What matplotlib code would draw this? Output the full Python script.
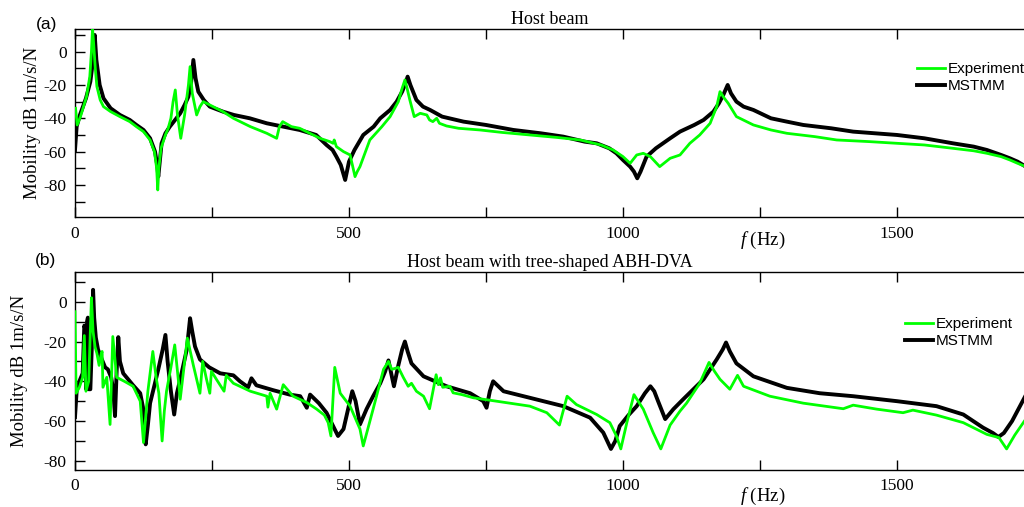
import matplotlib
matplotlib.use("Agg")
import matplotlib.pyplot as plt
import numpy as np
from matplotlib.ticker import MultipleLocator, FuncFormatter

# (frequency Hz, mobility dB)
mstmm_a = np.array([
    (0, -59), (3, -45), (9, -38), (20, -28), (28, -18), (33, -5), (36, 10), (39, -5), (45, -20),
    (52, -28), (65, -34), (82, -38), (100, -41), (112, -44), (125, -47), (137, -52), (146, -60),
    (150, -68), (152, -75), (155, -65), (158, -55), (165, -49), (173, -45), (185, -40), (192, -37),
    (200, -32), (207, -27), (212, -18), (216, -5), (220, -16), (225, -24), (235, -29), (246, -33),
    (270, -36), (290, -38), (319, -40), (350, -43), (380, -45), (410, -47), (440, -50), (459, -56),
    (470, -59), (477, -63), (485, -68), (493, -77), (500, -66), (510, -59), (526, -50), (545, -45),
    (557, -40), (575, -35), (587, -30), (597, -24), (603, -19), (607, -15), (612, -20), (623, -29),
    (635, -33), (648, -35), (670, -39), (709, -42), (750, -44), (800, -47), (850, -49), (891, -51),
    (930, -54), (952, -55), (975, -58), (988, -61), (1000, -65), (1013, -69), (1020, -72),
    (1026, -76), (1032, -72), (1043, -63), (1060, -58), (1073, -55), (1086, -52), (1104, -48),
    (1130, -44), (1147, -41), (1165, -36), (1175, -31), (1183, -26), (1191, -20), (1197, -25),
    (1207, -30), (1220, -33), (1238, -35), (1270, -40), (1299, -42), (1329, -44), (1380, -46),
    (1420, -48), (1460, -49), (1500, -50), (1550, -52), (1602, -55), (1640, -57), (1664, -59),
    (1690, -62), (1706, -64), (1720, -66), (1735, -69),
])

exp_a = np.array([
    (1, -34), (4, -44), (10, -39), (21, -27), (27, -15), (30, 0), (32, 14), (34, 5), (37, -10),
    (40, -21), (46, -29), (52, -33), (65, -36), (82, -39), (100, -42), (112, -45), (125, -48),
    (137, -53), (145, -60), (149, -70), (151, -83), (153, -70), (157, -58), (165, -50), (170, -46),
    (175, -40), (179, -30), (183, -23), (187, -38), (193, -52), (200, -38), (207, -20), (210, -9),
    (214, -25), (222, -38), (228, -33), (234, -30), (246, -32), (270, -36), (289, -40), (320, -45),
    (350, -49), (368, -52), (373, -45), (379, -42), (395, -45), (410, -46), (447, -52), (465, -54),
    (471, -55), (473, -53), (477, -57), (490, -60), (502, -62), (511, -75), (515, -72), (520, -69),
    (538, -53), (560, -45), (575, -39), (590, -30), (597, -22), (602, -17), (606, -22), (611, -29),
    (619, -39), (630, -37), (642, -38), (647, -41), (653, -42), (660, -40), (665, -43), (678, -44.6),
    (700, -46), (739, -47), (780, -48.5), (830, -50), (880, -51.5), (922, -53), (960, -56),
    (982, -59), (1000, -63), (1013, -67), (1025, -62), (1037, -61), (1050, -63), (1067, -69),
    (1086, -64), (1104, -62), (1122, -55), (1140, -50), (1159, -43), (1171, -33), (1177, -24),
    (1185, -28), (1192, -31), (1207, -39), (1238, -44), (1270, -47), (1299, -49), (1350, -51),
    (1390, -53), (1450, -54), (1500, -55), (1550, -56), (1602, -58), (1640, -59.5), (1664, -61),
    (1690, -63), (1706, -65), (1720, -67), (1735, -69),
])

mstmm_b = np.array([
    (0, -58), (3, -45), (8, -40), (14, -36), (17, -12), (19, -14), (20.5, -44), (22, -10),
    (23.5, -8), (25, -44), (28, -44), (31, -20), (33, 6), (35, -8), (38, -18), (42, -24), (49, -29),
    (55, -33), (60, -34), (66, -38), (70, -45), (73, -57.5), (76, -35), (79, -17.8), (82, -30),
    (88, -36), (94, -38), (106, -42), (119, -46), (124, -53), (127, -62), (129, -71.7), (133, -62),
    (137, -51), (145, -42), (152, -34), (160, -24), (165, -16.7), (169, -30), (175, -45),
    (181, -56.7), (186, -46), (192, -39), (204, -24), (210, -8.3), (214, -15), (219, -22.5),
    (228, -29), (245, -33), (265, -36), (289, -37), (301, -40), (316, -43), (322, -38.5), (331, -42),
    (362, -44.5), (392, -46.7), (411, -47.5), (423, -53.3), (429, -46.7), (445, -51), (459, -55.8),
    (471, -62.5), (480, -67.5), (490, -64), (500, -52), (506, -45), (512, -50), (520, -61.7),
    (532, -54), (544, -47.5), (557, -41), (566, -35), (572, -29.5), (577, -36), (582, -42.5),
    (590, -32), (597, -24), (602, -20), (607, -25), (614, -31), (636, -37.5), (678, -42.5),
    (721, -46), (745, -50), (751, -53.3), (757, -45), (763, -40), (782, -45), (830, -48.3),
    (891, -52.5), (940, -58.3), (964, -65.8), (978, -74), (986, -70), (994, -62.5), (1010, -57),
    (1025, -52.5), (1040, -46), (1050, -42.5), (1057, -45), (1064, -50), (1077, -59), (1092, -54),
    (1110, -49), (1147, -39), (1171, -29), (1182, -24), (1188, -20.5), (1195, -25), (1207, -31),
    (1238, -37.5), (1299, -43.3), (1359, -46), (1420, -47.5), (1500, -50), (1572, -52.5),
    (1621, -56.7), (1657, -63.3), (1675, -66), (1685, -68), (1695, -66), (1710, -60), (1735, -47),
])

exp_b = np.array([
    (0, -5), (2, -46), (8, -43), (14, -38), (17, -17), (20, -45), (25, -40), (30, 2), (33, -15),
    (36.5, -22.5), (40, -26), (44, -32), (48, -26), (49.5, -25), (51, -43), (58, -38), (64, -61.7),
    (69, -17.5), (76, -38), (90, -40), (106, -42.5), (119, -50), (125, -70.8), (133, -45),
    (142, -25), (148, -38), (153, -46), (159, -70), (163, -55), (167, -45), (175, -33),
    (182, -21.7), (187, -35), (192, -49), (198, -35), (205, -18.3), (216, -32), (228, -46),
    (233, -30), (240, -39), (246, -46), (249, -35), (258, -39), (272, -45), (276, -37), (289, -41),
    (320, -45), (350, -47.5), (352, -53), (356, -46), (368, -54), (380, -41.7), (398, -47.5),
    (423, -50.7), (441, -54), (455, -57), (462, -60.8), (467, -67.5), (474, -33), (484, -46),
    (502, -52.5), (520, -64), (526, -72.5), (544, -54), (563, -34), (572, -30), (578, -34),
    (590, -33), (599, -38), (608, -42.5), (614, -41), (623, -45), (636, -47.5), (647, -53.8),
    (659, -36.7), (663, -41.7), (667, -38.3), (671, -43), (684, -42.5), (690, -45.8), (706, -46.7),
    (727, -48.3), (769, -50), (830, -52.5), (861, -55.8), (884, -62), (898, -47.5), (915, -51.7),
    (952, -56.7), (976, -60.8), (988, -67.5), (996, -74), (1007, -60.8), (1020, -46.7), (1037, -54),
    (1055, -65.8), (1069, -74), (1086, -62), (1104, -55), (1116, -51), (1140, -41), (1157, -30.5),
    (1167, -35), (1177, -39), (1195, -44), (1209, -37), (1220, -42.5), (1268, -47.5), (1329, -51),
    (1402, -53.8), (1420, -52), (1463, -54), (1511, -55.8), (1529, -54.5), (1572, -57),
    (1621, -60.8), (1664, -66.7), (1686, -68.3), (1700, -74), (1715, -67), (1735, -59),
])

titles = ["Host beam", "Host beam with tree-shaped ABH-DVA"]
panel_tags = ["(a)", "(b)"]
series_labels = ["Experiment", "MSTMM"]

SERIF = "Liberation Serif"
SANS = "Liberation Sans"
GREEN = "#00ff00"
XMAX = 1794  # axes run past the right edge of the figure, like the original crop

plt.rcParams["mathtext.fontset"] = "custom"
plt.rcParams["mathtext.it"] = "Liberation Serif:italic"
plt.rcParams["mathtext.rm"] = "Liberation Serif"


def every(step):
    return FuncFormatter(lambda v, p: f"{int(round(v))}" if round(v) % step == 0 else "")


def draw_panel(ax, exp, mst, ylim, title, ylab_x, xlab_y, legend_xy):
    ax.plot(mst[:, 0], mst[:, 1], color="black", lw=2.8, label=series_labels[1], zorder=2)
    ax.plot(exp[:, 0], exp[:, 1], color=GREEN, lw=2.0, label=series_labels[0], zorder=3)
    ax.set_xlim(0, XMAX)
    ax.set_ylim(*ylim)

    ax.xaxis.set_major_locator(MultipleLocator(250))
    ax.xaxis.set_major_formatter(every(500))
    ax.yaxis.set_major_locator(MultipleLocator(10))
    ax.yaxis.set_major_formatter(every(20))
    ax.tick_params(direction="in", top=True, right=False, length=7, width=1,
                   labelsize=12.5, pad=6)
    for lab in ax.get_xticklabels() + ax.get_yticklabels():
        lab.set_family(SERIF)
    for sp in ax.spines.values():
        sp.set_linewidth(1.0)

    ax.set_ylabel("Mobility dB 1m/s/N", family=SERIF, fontsize=13.5, va="center")
    ax.yaxis.set_label_coords(ylab_x, 0.5)
    ax.set_xlabel(r"$f$ (Hz)", family=SERIF, fontsize=13.5, va="center")
    ax.xaxis.set_label_coords(1254 / XMAX, xlab_y)

    ax.set_title(title, family=SERIF, fontsize=13, pad=4)
    ax.title.set_x(867 / XMAX)

    h, l = ax.get_legend_handles_labels()
    ax.legend(h[::-1], l[::-1], loc="upper left", bbox_to_anchor=legend_xy,
              bbox_transform=ax.figure.transFigure, frameon=False,
              prop={"family": SANS, "size": 11}, handlelength=1.8, handletextpad=0.2,
              labelspacing=0.2, borderpad=0, borderaxespad=0)


fig = plt.figure(figsize=(10.24, 5.07), dpi=100)
W = XMAX * 0.548 / 1024
ax_a = fig.add_axes([75 / 1024, 1 - 217.3 / 507, W, 188.0 / 507])
ax_b = fig.add_axes([75 / 1024, 1 - 470.0 / 507, W, 197.7 / 507])

draw_panel(ax_a, exp_a, mstmm_a, (-99.4, 13.4), titles[0], -0.043, -0.121,
           (917 / 1024, 1 - 62 / 507))
draw_panel(ax_b, exp_b, mstmm_b, (-84.6, 14.8), titles[1], -0.056, -0.135,
           (905 / 1024, 1 - 317 / 507))

fig.text(36 / 1024, 1 - 25 / 507, panel_tags[0], family=SANS, fontsize=12.5, va="center")
fig.text(35 / 1024, 1 - 261 / 507, panel_tags[1], family=SANS, fontsize=12.5, va="center")

fig.savefig("out.png", dpi=100)
